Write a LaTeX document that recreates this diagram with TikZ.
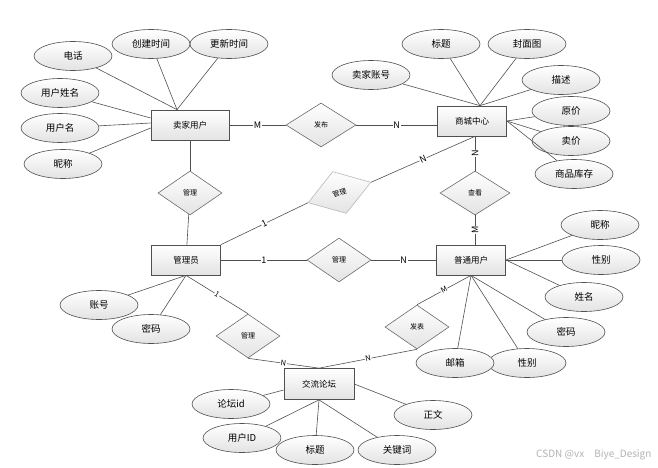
\documentclass[tikz,border=0pt]{standalone}
\usepackage{fontspec}
\setmainfont{Noto Sans CJK SC}
\usepackage{tikz}
\usetikzlibrary{shapes.geometric}
\definecolor{edge}{HTML}{505050}
\tikzstyle{grad}=[top color=white,bottom color=black!11]
\tikzstyle{ent} =[draw=edge,line width=.7pt,grad,minimum width=69pt,minimum height=30pt,inner sep=0pt,font=\fontsize{8.5}{10}\selectfont]
\tikzstyle{attr}=[ellipse,draw=edge,line width=.6pt,grad,minimum width=78pt,minimum height=29pt,inner sep=0pt,font=\fontsize{9.5}{11}\selectfont]
\tikzstyle{rel} =[diamond,draw=edge!85,line width=.6pt,grad,minimum width=64pt,minimum height=44pt,inner sep=0pt,font=\fontsize{7}{8}\selectfont]
\tikzstyle{ln}  =[line width=.6pt,draw=edge]
\tikzstyle{card}=[fill=white,inner sep=.6pt,font=\fontsize{9}{10}\selectfont]

\begin{document}
\begin{tikzpicture}[x=1pt,y=-1pt]
	\useasboundingbox (0,0) rectangle (658,468);
	% entities
	\node[ent,minimum width=78pt] (seller) at (190,125) {卖家用户};
	\node[ent] (mall)  at (472,121) {商城中心};
	\node[ent] (admin) at (186,260) {管理员};
	\node[ent] (user)  at (471,260) {普通用户};
	\node[ent,minimum width=70pt,minimum height=31pt] (forum) at (319,384) {交流论坛};
	% relations
	\node[rel,minimum width=70pt] (publish) at (321,125) {发布};
	\node[rel] (manage-s) at (190,193) {管理};
	\node[rel,draw=black!28,minimum width=66pt,rotate=18] (manage-m) at (339.5,192.5) {管理};
	\node[rel,minimum width=70pt] (view) at (475,193) {查看};
	\node[rel] (manage-u) at (339,260) {管理};
	\node[rel] (manage-f) at (248,336) {管理};
	\node[rel] (post) at (417,327) {发表};
	% seller attributes
	\node[attr] (s-phone) at (73,56)  {电话};
	\node[attr] (s-ctime) at (151,44) {创建时间};
	\node[attr] (s-utime) at (229,44) {更新时间};
	\node[attr] (s-rname) at (60,93)  {用户姓名};
	\node[attr] (s-uname) at (60,128) {用户名};
	\node[attr] (s-nick)  at (63,164) {昵称};
	% mall attributes
	\node[attr] (m-title) at (441,44)  {标题};
	\node[attr] (m-cover) at (527,44)  {封面图};
	\node[attr] (m-acct)  at (371,75)  {卖家账号};
	\node[attr] (m-desc)  at (561,80)  {描述};
	\node[attr] (m-price) at (571,111) {原价};
	\node[attr] (m-sale)  at (571,141) {卖价};
	\node[attr] (m-stock) at (574,174) {商品库存};
	% admin attributes
	\node[attr] (a-acct) at (99,305)  {账号};
	\node[attr] (a-pwd)  at (151,329) {密码};
	% user attributes
	\node[attr] (u-nick) at (600,225) {昵称};
	\node[attr] (u-sex)  at (601,260) {性别};
	\node[attr] (u-name) at (584,297) {姓名};
	\node[attr] (u-pwd)  at (566,332) {密码};
	\node[attr] (u-sex2) at (527,363) {性别};
	\node[attr] (u-mail) at (455,363) {邮箱};
	% forum attributes
	\node[attr] (f-id)    at (231,404) {论坛id};
	\node[attr] (f-uid)   at (242,438) {用户ID};
	\node[attr] (f-title) at (315,450) {标题};
	\node[attr] (f-key)   at (397,450) {关键词};
	\node[attr] (f-text)  at (433,415) {正文};
	% attribute links
	\coordinate (seller-t) at ([xshift=-13pt]seller.north);
	\coordinate (mall-t) at ([xshift=8pt]mall.north);
	\draw[ln] (s-phone) -- (seller-t);
	\draw[ln] (s-ctime) -- (seller-t);
	\draw[ln] (s-utime) -- (seller-t);
	\draw[ln] (s-rname) -- ([yshift=7pt]seller.west);
	\draw[ln] (s-uname) -- ([yshift=2pt]seller.west);
	\draw[ln] (s-nick)  -- ([yshift=-3pt]seller.west);
	\draw[ln] (m-acct)  -- (mall-t);
	\draw[ln] (m-title) -- (mall-t);
	\draw[ln] (m-cover) -- (mall-t);
	\draw[ln] (m-desc)  -- (mall-t);
	\draw[ln] (m-price) -- (mall.east);
	\draw[ln] (m-sale)  -- (mall.east);
	\draw[ln] (m-stock) -- (mall.east);
	\draw[ln] (a-acct) -- (admin.south);
	\draw[ln] (a-pwd)  -- (admin.south);
	\draw[ln] (u-nick) -- (user.east);
	\draw[ln] (u-sex)  -- (user.east);
	\draw[ln] (u-name) -- (user.east);
	\draw[ln] (u-pwd)  -- (user.south);
	\draw[ln] (u-sex2) -- (user.south);
	\draw[ln] (u-mail) -- (user.south);
	\draw[ln] (f-id)    -- ([yshift=-6pt]forum.west);
	\draw[ln] (f-text)  -- (forum.east);
	\draw[ln] (f-uid)   -- (forum.south);
	\draw[ln] (f-title) -- (forum.south);
	\draw[ln] (f-key)   -- (forum.south);
	% relation links
	\draw[ln] (seller) --node[card]{M} (publish);
	\draw[ln] (publish) --node[card]{N} (publish -| mall.west);
	\draw[ln] (seller) -- (manage-s);
	\draw[ln] (manage-s) -- (admin);
	\draw[ln] (admin.north east) --node[card,sloped]{1} (manage-m.west);
	\draw[ln] (manage-m.east) --node[card,sloped]{N} ([xshift=3pt]mall.south);
	\draw[ln] (view) --node[card,sloped]{N} (view |- mall.south);
	\draw[ln] (view |- user.north) --node[card,sloped]{M} (view);
	\draw[ln] (admin) --node[card]{1} (manage-u);
	\draw[ln] (manage-u) --node[card]{N} (user);
	\draw[ln] (admin.south) --node[card,sloped,font=\fontsize{7.5}{8}\selectfont]{1} (manage-f.north);
	\draw[ln] (manage-f.south) --node[card,sloped,font=\fontsize{7.5}{8}\selectfont]{N} (forum.north);
	\draw[ln] (user.south) --node[card,sloped,font=\fontsize{7.5}{8}\selectfont]{M} (post.north);
	\draw[ln] (post.south) --node[card,sloped,font=\fontsize{7.5}{8}\selectfont]{N} (forum.north);
	% watermark
	\node[text=black!30,anchor=east,font=\fontsize{10}{12}\selectfont] (mark) at (655,455) {CSDN @vx\quad Biye\_Design};
\end{tikzpicture}
\end{document}
